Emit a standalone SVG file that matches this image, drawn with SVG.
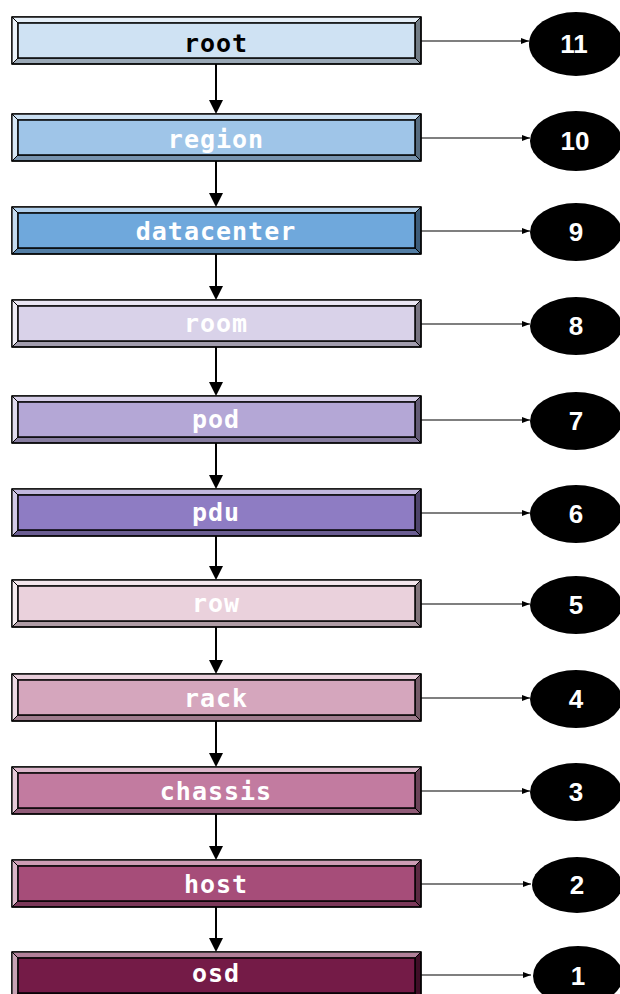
<svg xmlns="http://www.w3.org/2000/svg" width="620" height="994" viewBox="0 0 620 994">
<style>
.out{stroke:#000;stroke-width:1.5}
.lt{fill:#fff;fill-opacity:0.45;stroke:#000;stroke-width:1}
.lf{fill:#fff;fill-opacity:0.6;stroke:#000;stroke-width:1}
.dk{fill:#000;fill-opacity:0.25;stroke:#000;stroke-width:1}
.dr{fill:#000;fill-opacity:0.45;stroke:#000;stroke-width:1}
.inner{stroke:#000;stroke-width:1.5}
.lbl{font-family:"DejaVu Sans Mono",monospace;font-weight:bold;font-size:25px;letter-spacing:1px;text-anchor:middle;fill:#fff}
.num{font-family:"Liberation Sans",Arial,sans-serif;font-weight:bold;font-size:26px;text-anchor:middle;fill:#fff}
.v{stroke:#000;stroke-width:2;fill:none}
.h{stroke:#000;stroke-width:1.2;fill:none}
</style>
<defs>
<g id="bev">
<polygon class="lt" points="0,0 409,0 403,6 6,6"/>
<polygon class="lf" points="0,0 6,6 6,41 0,47"/>
<polygon class="dk" points="0,47 6,41 403,41 409,47"/>
<polygon class="dr" points="409,0 409,47 403,41 403,6"/>
</g>
<marker id="ah" markerWidth="8" markerHeight="8" refX="8" refY="4" orient="auto" markerUnits="userSpaceOnUse"><path d="M0,1 L8,4 L0,7 Z" fill="#000"/></marker>
</defs>
<g id="connectors">
<line class="v" x1="216" y1="64" x2="216" y2="100"/><polygon points="209,100 223,100 216,114"/>
<line class="v" x1="216" y1="161" x2="216" y2="193"/><polygon points="209,193 223,193 216,207"/>
<line class="v" x1="216" y1="254" x2="216" y2="286"/><polygon points="209,286 223,286 216,300"/>
<line class="v" x1="216" y1="347" x2="216" y2="382"/><polygon points="209,382 223,382 216,396"/>
<line class="v" x1="216" y1="443" x2="216" y2="475"/><polygon points="209,475 223,475 216,489"/>
<line class="v" x1="216" y1="536" x2="216" y2="566"/><polygon points="209,566 223,566 216,580"/>
<line class="v" x1="216" y1="627" x2="216" y2="660"/><polygon points="209,660 223,660 216,674"/>
<line class="v" x1="216" y1="721" x2="216" y2="753"/><polygon points="209,753 223,753 216,767"/>
<line class="v" x1="216" y1="814" x2="216" y2="846"/><polygon points="209,846 223,846 216,860"/>
<line class="v" x1="216" y1="907" x2="216" y2="938"/><polygon points="209,938 223,938 216,952"/>
<line class="h" x1="421" y1="41" x2="529" y2="41" marker-end="url(#ah)"/>
<line class="h" x1="421" y1="138" x2="530" y2="138" marker-end="url(#ah)"/>
<line class="h" x1="421" y1="231" x2="530" y2="231" marker-end="url(#ah)"/>
<line class="h" x1="421" y1="324" x2="530" y2="324" marker-end="url(#ah)"/>
<line class="h" x1="421" y1="420" x2="530" y2="420" marker-end="url(#ah)"/>
<line class="h" x1="421" y1="513" x2="530" y2="513" marker-end="url(#ah)"/>
<line class="h" x1="421" y1="604" x2="530" y2="604" marker-end="url(#ah)"/>
<line class="h" x1="421" y1="698" x2="530" y2="698" marker-end="url(#ah)"/>
<line class="h" x1="421" y1="791" x2="530" y2="791" marker-end="url(#ah)"/>
<line class="h" x1="421" y1="884" x2="531" y2="884" marker-end="url(#ah)"/>
<line class="h" x1="421" y1="975" x2="531" y2="975" marker-end="url(#ah)"/>
</g>
<g id="n-root" transform="translate(12,17)"><rect class="out" width="409" height="47" fill="#cfe2f3"/><use href="#bev"/><rect class="inner" x="6" y="6" width="397" height="35" fill="#cfe2f3"/><text class="lbl" x="204" y="35" style="fill:#000">root</text></g>
<g id="n-region" transform="translate(12,114)"><rect class="out" width="409" height="47" fill="#9fc5e8"/><use href="#bev"/><rect class="inner" x="6" y="6" width="397" height="35" fill="#9fc5e8"/><text class="lbl" x="204" y="34">region</text></g>
<g id="n-datacenter" transform="translate(12,207)"><rect class="out" width="409" height="47" fill="#6fa8dc"/><use href="#bev"/><rect class="inner" x="6" y="6" width="397" height="35" fill="#6fa8dc"/><text class="lbl" x="204" y="33">datacenter</text></g>
<g id="n-room" transform="translate(12,300)"><rect class="out" width="409" height="47" fill="#d9d2e9"/><use href="#bev"/><rect class="inner" x="6" y="6" width="397" height="35" fill="#d9d2e9"/><text class="lbl" x="204" y="32">room</text></g>
<g id="n-pod" transform="translate(12,396)"><rect class="out" width="409" height="47" fill="#b4a7d6"/><use href="#bev"/><rect class="inner" x="6" y="6" width="397" height="35" fill="#b4a7d6"/><text class="lbl" x="204" y="32">pod</text></g>
<g id="n-pdu" transform="translate(12,489)"><rect class="out" width="409" height="47" fill="#8e7cc3"/><use href="#bev"/><rect class="inner" x="6" y="6" width="397" height="35" fill="#8e7cc3"/><text class="lbl" x="204" y="32">pdu</text></g>
<g id="n-row" transform="translate(12,580)"><rect class="out" width="409" height="47" fill="#ead1dc"/><use href="#bev"/><rect class="inner" x="6" y="6" width="397" height="35" fill="#ead1dc"/><text class="lbl" x="204" y="32">row</text></g>
<g id="n-rack" transform="translate(12,674)"><rect class="out" width="409" height="47" fill="#d5a6bd"/><use href="#bev"/><rect class="inner" x="6" y="6" width="397" height="35" fill="#d5a6bd"/><text class="lbl" x="204" y="33">rack</text></g>
<g id="n-chassis" transform="translate(12,767)"><rect class="out" width="409" height="47" fill="#c27ba0"/><use href="#bev"/><rect class="inner" x="6" y="6" width="397" height="35" fill="#c27ba0"/><text class="lbl" x="204" y="33">chassis</text></g>
<g id="n-host" transform="translate(12,860)"><rect class="out" width="409" height="47" fill="#a64d79"/><use href="#bev"/><rect class="inner" x="6" y="6" width="397" height="35" fill="#a64d79"/><text class="lbl" x="204" y="33">host</text></g>
<g id="n-osd" transform="translate(12,952)"><rect class="out" width="409" height="47" fill="#741b47"/><use href="#bev"/><rect class="inner" x="6" y="6" width="397" height="35" fill="#741b47"/><text class="lbl" x="204" y="30">osd</text></g>
<g id="e11"><ellipse cx="576" cy="44" rx="47" ry="32"/><text class="num" x="574" y="53">11</text></g>
<g id="e10"><ellipse cx="576" cy="141" rx="46" ry="30"/><text class="num" x="575" y="150">10</text></g>
<g id="e9"><ellipse cx="576" cy="232" rx="46" ry="29"/><text class="num" x="576" y="241">9</text></g>
<g id="e8"><ellipse cx="576" cy="326" rx="46" ry="29"/><text class="num" x="576" y="335">8</text></g>
<g id="e7"><ellipse cx="576" cy="421" rx="46" ry="29"/><text class="num" x="576" y="430">7</text></g>
<g id="e6"><ellipse cx="576" cy="514" rx="46" ry="29"/><text class="num" x="576" y="523">6</text></g>
<g id="e5"><ellipse cx="576" cy="605" rx="46" ry="29"/><text class="num" x="576" y="614">5</text></g>
<g id="e4"><ellipse cx="576" cy="699" rx="46" ry="29"/><text class="num" x="576" y="708">4</text></g>
<g id="e3"><ellipse cx="576" cy="792" rx="46" ry="29"/><text class="num" x="576" y="801">3</text></g>
<g id="e2"><ellipse cx="577" cy="885" rx="45" ry="28"/><text class="num" x="577" y="894">2</text></g>
<g id="e1"><ellipse cx="578" cy="976" rx="45" ry="30"/><text class="num" x="578" y="985">1</text></g>
</svg>
